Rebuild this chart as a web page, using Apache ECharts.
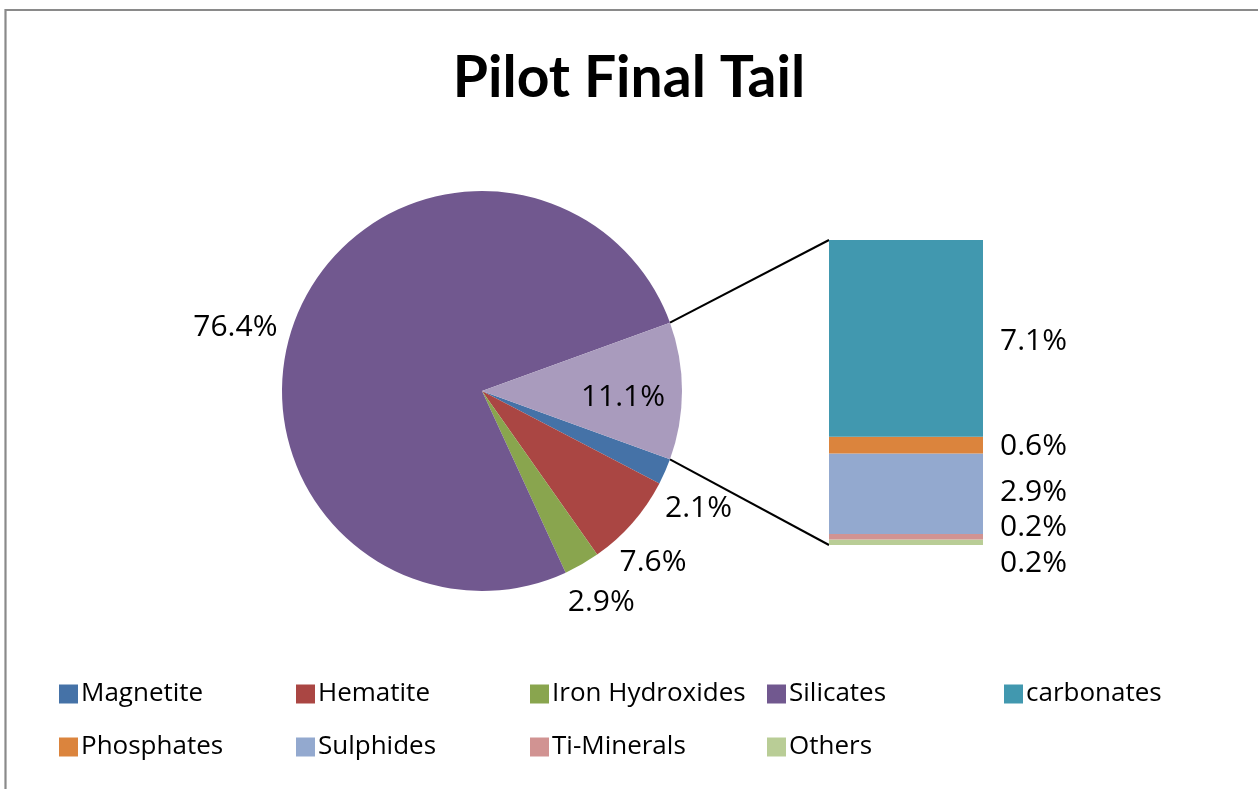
<!DOCTYPE html>
<html>
<head>
<meta charset="utf-8">
<script src="https://cdn.jsdelivr.net/npm/echarts@6/dist/echarts.min.js"></script>
<style>
  html, body { margin: 0; padding: 0; background: #fff; }
  #chart { width: 1258px; height: 789px; }
</style>
</head>
<body>
<div id="chart"></div>
<script>
// ---- data ----
const TITLE = 'Pilot Final Tail';
const pieNames = ['Magnetite', 'Hematite', 'Iron Hydroxides', 'Silicates'];
const pieValues = [2.1, 7.6, 2.9, 76.4];
const otherName = 'Other';
const otherValue = 11.1;
// stacked column, listed bottom to top
const barNames = ['Others', 'Ti-Minerals', 'Sulphides', 'Phosphates', 'carbonates'];
const barValues = [0.2, 0.2, 2.9, 0.6, 7.1];
const legendOrder = ['Magnetite', 'Hematite', 'Iron Hydroxides', 'Silicates', 'carbonates',
                     'Phosphates', 'Sulphides', 'Ti-Minerals', 'Others'];

// ---- styles ----
const COLORS = {
  'Magnetite': '#4572A7', 'Hematite': '#AA4643', 'Iron Hydroxides': '#89A54E',
  'Silicates': '#71588F', 'carbonates': '#4198AF', 'Phosphates': '#DB843D',
  'Sulphides': '#93A9CF', 'Ti-Minerals': '#D19392', 'Others': '#B9CD96',
  'Other': '#A99BBD'
};
const FONT = '"Open Sans", "Noto Sans", sans-serif';
const PIE_CX = 482, PIE_CY = 391, PIE_R = 200;
const BAR = { left: 829, top: 240, width: 154, height: 305 };
// nudges for the pie labels [dx, dy]
const PIE_LABEL_NUDGE = {
  'Magnetite': [0, 37], 'Hematite': [-13, 40], 'Iron Hydroxides': [-14, 38],
  'Silicates': [-20, 13], 'Other': [38, 6]
};
// vertical nudges for the column labels
const BAR_LABEL_NUDGE = {
  'carbonates': 3, 'Phosphates': 1, 'Sulphides': -1, 'Ti-Minerals': -9, 'Others': 21
};
const LEGEND_COLS = [59, 296, 530, 767, 1004];
const LEGEND_ROWS = [681, 734];

const pieTotal = pieValues.reduce((a, b) => a + b, 0) + otherValue;
const barTotal = barValues.reduce((a, b) => a + b, 0);
const halfOther = otherValue / pieTotal * 180; // degrees either side of 3 o'clock

const pieData = pieNames.map((n, i) => ({
  name: n, value: pieValues[i],
  itemStyle: { color: COLORS[n] },
  label: { offset: PIE_LABEL_NUDGE[n] }
}));
pieData.push({
  name: otherName, value: otherValue,
  itemStyle: { color: COLORS[otherName] },
  label: { position: 'inside', offset: PIE_LABEL_NUDGE[otherName] }
});

const barSeries = barNames.map((n, i) => ({
  type: 'bar', name: n, stack: 'rest',
  data: [barValues[i]],
  barWidth: '100%',
  itemStyle: { color: COLORS[n] },
  label: {
    show: true, position: 'right', distance: 17,
    formatter: '{c}%',
    offset: [0, BAR_LABEL_NUDGE[n]],
    color: '#000', fontFamily: FONT, fontSize: 30
  },
  emphasis: { disabled: true }
}));

const legends = legendOrder.map((n, i) => ({
  data: [n],
  left: LEGEND_COLS[i % 5],
  top: LEGEND_ROWS[Math.floor(i / 5)],
  padding: 0,
  icon: 'rect', itemWidth: 19, itemHeight: 19,
  selectedMode: false,
  textStyle: { fontFamily: FONT, fontSize: 26, lineHeight: 26, color: '#000', padding: [0, 0, 0, -2] }
}));

const chart = echarts.init(document.getElementById('chart'), null, { renderer: 'canvas' });
chart.setOption({
  animation: false,
  backgroundColor: '#fff',
  title: {
    text: TITLE, left: 'center', top: 45,
    textStyle: { fontFamily: 'Lato, "Open Sans", sans-serif', fontWeight: 'bold', fontSize: 57, color: '#000' }
  },
  legend: legends,
  grid: { left: BAR.left, top: BAR.top, width: BAR.width, height: BAR.height },
  xAxis: { type: 'category', data: [''], show: false },
  yAxis: { type: 'value', min: 0, max: barTotal, show: false },
  series: [
    {
      type: 'pie',
      center: [PIE_CX, PIE_CY], radius: PIE_R,
      startAngle: -halfOther, clockwise: true,
      avoidLabelOverlap: false,
      data: pieData,
      label: {
        show: true, position: 'outside', formatter: '{c}%',
        distanceToLabelLine: 0,
        color: '#000', fontFamily: FONT, fontSize: 30
      },
      labelLine: { show: false, length: 0, length2: 0 },
      emphasis: { disabled: true }
    },
    ...barSeries
  ]
});

// connector lines from the aggregated slice to the stacked column
const rad = halfOther * Math.PI / 180;
const pTop = [PIE_CX + PIE_R * Math.cos(rad), PIE_CY - PIE_R * Math.sin(rad)];
const pBot = [PIE_CX + PIE_R * Math.cos(rad), PIE_CY + PIE_R * Math.sin(rad)];
const yTop = chart.convertToPixel({ yAxisIndex: 0 }, barTotal);
const yBot = chart.convertToPixel({ yAxisIndex: 0 }, 0);
chart.setOption({
  graphic: [
    { type: 'rect', shape: { x: 5.5, y: 10, width: 1400, height: 900 },
      style: { fill: null, stroke: '#8a8a8a', lineWidth: 2.2 }, silent: true },
    { type: 'line', shape: { x1: pTop[0], y1: pTop[1], x2: BAR.left, y2: yTop },
      style: { stroke: '#000', lineWidth: 2 }, silent: true },
    { type: 'line', shape: { x1: pBot[0], y1: pBot[1], x2: BAR.left, y2: yBot },
      style: { stroke: '#000', lineWidth: 2 }, silent: true }
  ]
});
</script>
</body>
</html>
